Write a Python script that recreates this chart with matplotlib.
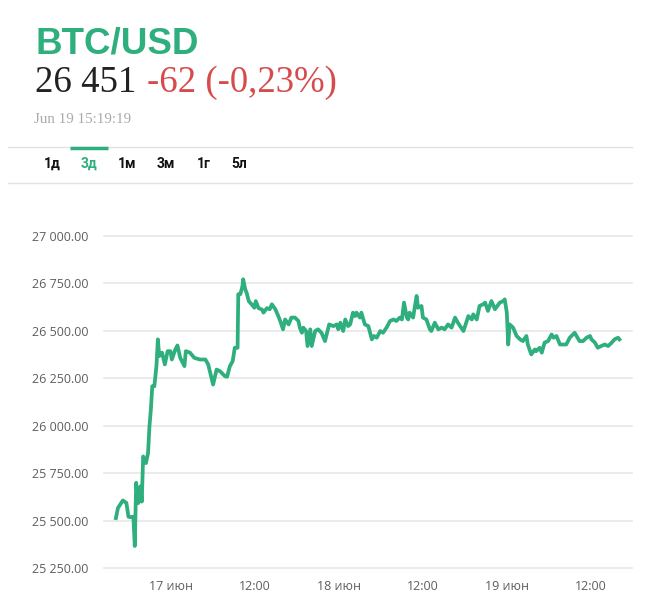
import matplotlib
matplotlib.use("Agg")
import matplotlib.pyplot as plt
import pandas as pd

# hours from 17 June 00:00 and the BTC/USD price
hours = [-7.9, -7.6, -6.9, -6.4, -6.1, -5.8, -5.4, -5.2, -5.0, -4.7, -4.4, -4.2, -4.0, -3.6,
         -3.3, -3.1, -2.9, -2.7, -2.4, -2.1, -1.9, -1.7, -1.3, -0.9, -0.5, -0.1, 0.1, 0.6,
         0.9, 1.3, 1.9, 2.1, 2.7, 3.3, 4.1, 4.9, 5.3, 5.7, 6.0, 6.5, 7.0, 7.7, 8.0, 8.4,
         8.8, 9.1, 9.5, 9.6, 9.9, 10.2, 10.3, 10.6, 10.8, 11.1, 11.5, 11.9, 12.1, 12.5,
         13.0, 13.2, 13.7, 14.1, 14.4, 14.9, 15.3, 15.6, 16.0, 16.3, 16.8, 17.2, 17.7,
         18.2, 18.4, 18.7, 18.9, 19.3, 19.5, 19.9, 20.1, 20.6, 21.0, 21.5, 22.0, 22.6,
         23.2, 23.7, 23.9, 24.2, 24.6, 24.9, 25.3, 25.6, 26.0, 26.3, 26.5, 27.0, 27.2,
         27.7, 28.2, 28.7, 29.0, 29.4, 29.9, 30.3, 30.8, 31.3, 31.8, 32.2, 32.7, 33.0,
         33.3, 33.7, 33.9, 34.1, 34.6, 35.1, 35.3, 35.8, 36.0, 36.5, 37.0, 37.2, 37.7,
         38.2, 38.7, 39.1, 39.6, 40.1, 40.6, 41.0, 41.8, 42.5, 43.0, 43.2, 43.7, 44.1,
         44.6, 44.9, 45.3, 45.8, 46.3, 47.0, 47.5, 47.7, 48.0, 48.2, 48.4, 48.9, 49.4,
         49.9, 50.3, 50.8, 51.0, 51.5, 52.0, 52.2, 52.7, 53.0, 53.4, 53.9, 54.4, 54.7,
         55.1, 55.6, 56.0, 56.5, 57.0, 57.7, 58.4, 58.9, 59.4, 59.9, 60.1, 60.6, 61.0,
         61.5, 62.0, 62.5, 63.0, 63.4, 63.9, 64.1]
price = [25513, 25567, 25606, 25593, 25520, 25518, 25520, 25366, 25699, 25592, 25680, 25600,
         25838, 25803, 25856, 25997, 26085, 26208, 26208, 26314, 26455, 26367, 26385, 26323,
         26393, 26393, 26349, 26402, 26423, 26358, 26314, 26393, 26385, 26358, 26349, 26349,
         26323, 26261, 26217, 26296, 26287, 26261, 26258, 26314, 26340, 26411, 26411, 26693,
         26693, 26737, 26772, 26719, 26700, 26657, 26640, 26622, 26657, 26620, 26612, 26596,
         26620, 26614, 26640, 26614, 26580, 26552, 26508, 26560, 26534, 26570, 26570, 26552,
         26517, 26490, 26517, 26499, 26420, 26508, 26420, 26499, 26508, 26490, 26446, 26534,
         26525, 26534, 26508, 26543, 26499, 26560, 26525, 26534, 26596, 26578, 26596, 26570,
         26596, 26534, 26525, 26455, 26473, 26464, 26499, 26490, 26517, 26552, 26560, 26552,
         26570, 26560, 26649, 26570, 26560, 26596, 26570, 26684, 26622, 26631, 26570, 26560,
         26508, 26499, 26543, 26508, 26517, 26508, 26534, 26517, 26570, 26543, 26499, 26578,
         26560, 26587, 26560, 26631, 26640, 26649, 26605, 26657, 26614, 26649, 26657, 26666,
         26596, 26428, 26534, 26517, 26473, 26455, 26446, 26473, 26428, 26376, 26402, 26393,
         26411, 26385, 26438, 26446, 26481, 26464, 26473, 26428, 26428, 26428, 26464, 26490,
         26446, 26446, 26464, 26473, 26455, 26438, 26411, 26420, 26428, 26420, 26438, 26455,
         26464, 26455]

tick_hours = [0, 12, 24, 36, 48, 60]
tick_labels = ["17 июн", "12:00", "18 июн", "12:00", "19 июн", "12:00"]
y_ticks = [25250, 25500, 25750, 26000, 26250, 26500, 26750, 27000]
tabs = ["1д", "3д", "1м", "3м", "1г", "5л"]

green = "#2eaf7d"
base = pd.Timestamp("2023-06-17")
times = base + pd.to_timedelta(hours, unit="h")
tick_times = base + pd.to_timedelta(tick_hours, unit="h")

W, H = 656, 600
fig = plt.figure(figsize=(W / 100, H / 100), dpi=100)

# header
fig.text(35 / W, 1 - 54 / H, "BTC/USD", fontsize=26.5, fontweight="bold", color=green,
         family="Liberation Sans", va="baseline")
fig.text(35 / W, 1 - 92 / H, "26 451", fontsize=26.5, color="#222222",
         family="Liberation Serif", va="baseline")
fig.text(147 / W, 1 - 92 / H, "-62 (-0,23%)", fontsize=26.5, color="#d64c4c",
         family="Liberation Serif", va="baseline")
fig.text(34 / W, 1 - 123 / H, "Jun 19 15:19:19", fontsize=10.8, color="#aaaaaa",
         family="Liberation Serif", va="baseline")

# tab bar
fig.add_artist(plt.Line2D([8 / W, 632 / W], [1 - 147 / H] * 2, color="#e2e2e2", lw=1))
fig.add_artist(plt.Line2D([8 / W, 632 / W], [1 - 183 / H] * 2, color="#e2e2e2", lw=1))
fig.add_artist(plt.Line2D([70 / W, 108 / W], [1 - 148 / H] * 2, color=green, lw=2.5,
                          solid_capstyle="butt"))
tab_x = [52, 89, 127, 166, 204, 239]
for t, x in zip(tabs, tab_x):
    fig.text(x / W, 1 - 164 / H, t, fontsize=10, fontweight="bold", family="Roboto",
             color=green if t == "3д" else "#111111", ha="center", va="center")

# chart
ax = fig.add_axes([104 / W, 1 - 568 / H, (632 - 104) / W, (568 - 236) / H])
ax.plot(times, price, color=green, lw=2.7, solid_joinstyle="round")
ax.set_ylim(25250, 27000)
ax.set_xlim(base + pd.Timedelta(hours=-9.6), base + pd.Timedelta(hours=65.9))
ax.set_yticks(y_ticks)
ax.set_yticklabels([f"{v:,.2f}".replace(",", " ") for v in y_ticks])
ax.set_xticks(tick_times)
ax.set_xticklabels(tick_labels)
ax.grid(axis="y", color="#e8e8e8", lw=1.2)
ax.set_axisbelow(True)
for g in ax.get_ygridlines():
    g.set_clip_on(False)
for s in ax.spines.values():
    s.set_visible(False)
ax.tick_params(axis="both", length=0, labelsize=9, labelcolor="#5e5e5e")
ax.tick_params(axis="y", pad=11)
ax.tick_params(axis="x", pad=9)
for lbl in ax.get_xticklabels() + ax.get_yticklabels():
    lbl.set_family("Open Sans")

fig.savefig("out.png", dpi=100, facecolor="white")
